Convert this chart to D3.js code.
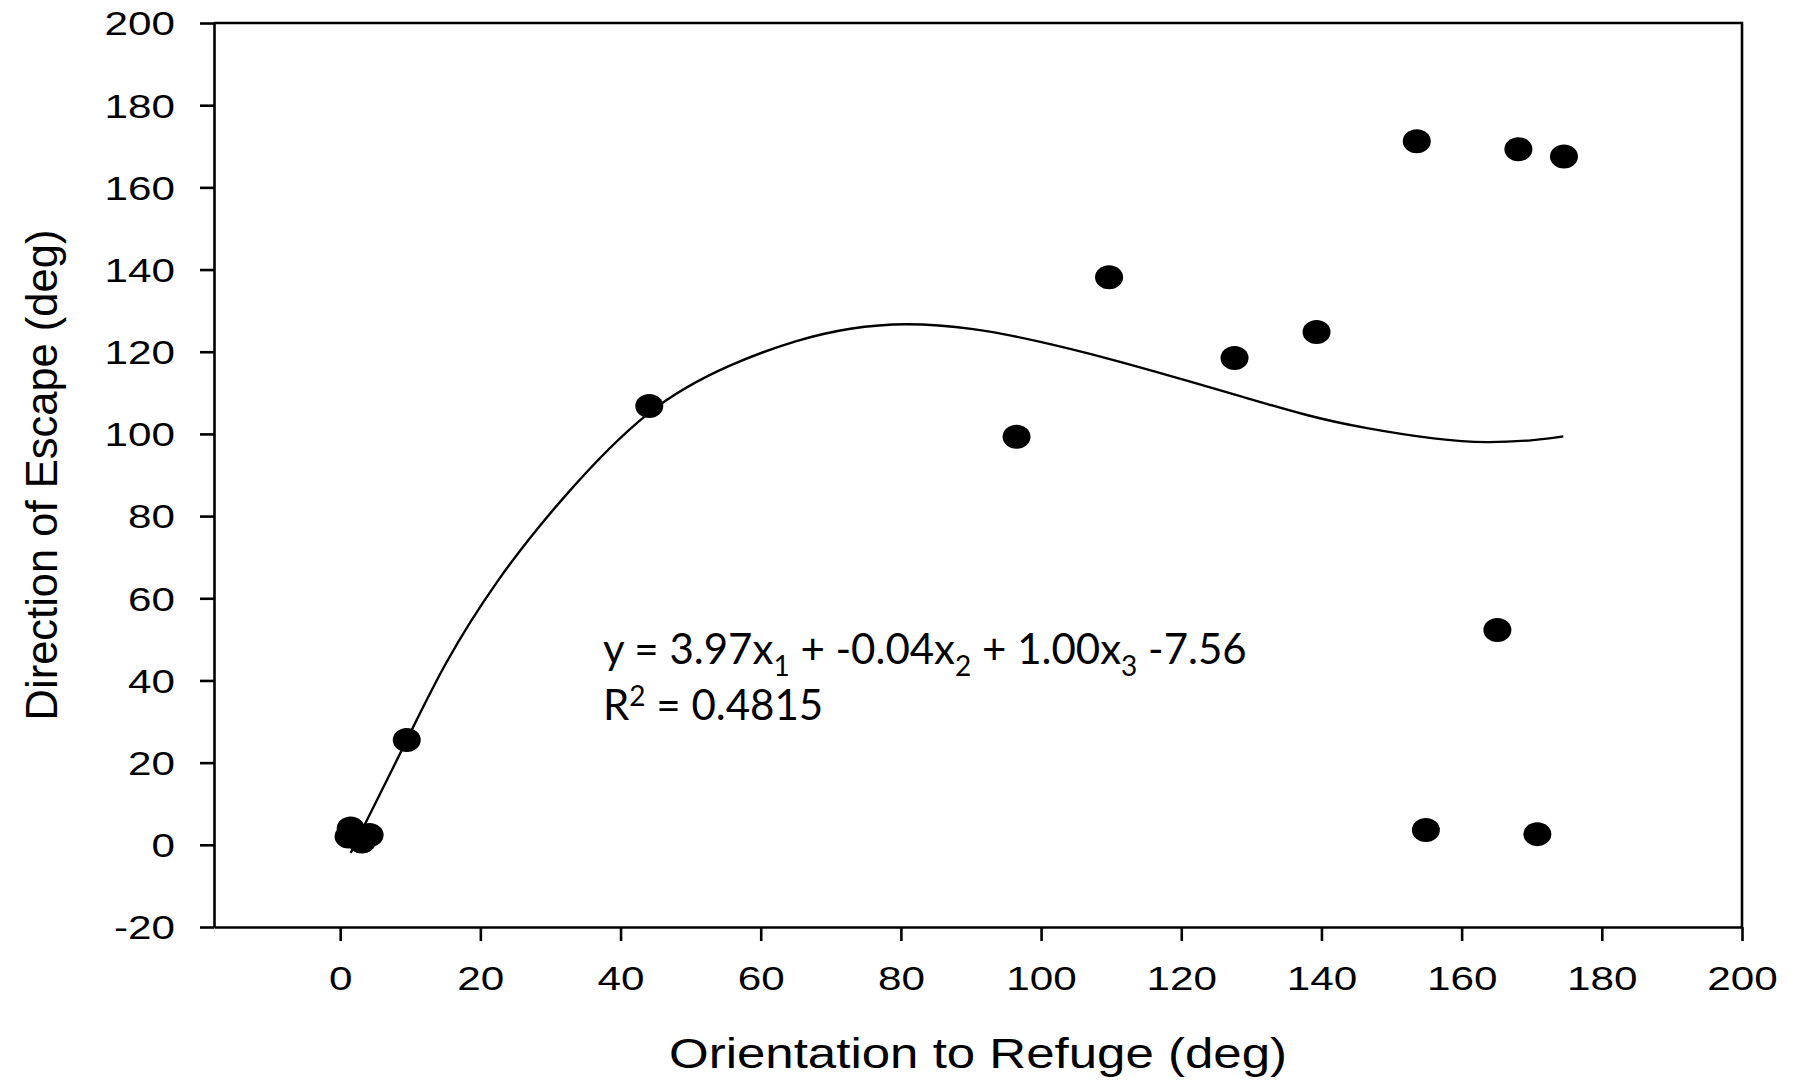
<!DOCTYPE html>
<html>
<head>
<meta charset="utf-8">
<script src="https://cdn.jsdelivr.net/npm/d3@7"></script>
<style>
  body { margin: 0; background: #fff; }
  svg { display: block; }
  .axis path, .axis line { stroke: #000; stroke-width: 2.6; }
  .axis text { font-family: "Liberation Sans", Arial, sans-serif; font-size: 33px; fill: #000; }
  .eq { font-family: Lato, "Open Sans", sans-serif; font-size: 42px; fill: #000; }
</style>
</head>
<body>
<svg width="1796" height="1085"></svg>
<script>
// observations: orientation to refuge vs direction of escape (deg)
var orientation = [1.5, 1.2, 4.2, 3.1, 9.5, 44.1, 96.5, 109.7, 127.6, 139.3, 153.6, 168.1, 174.6, 165.1, 154.9, 170.8];
var escape      = [4.0, 2.0, 2.4, 0.8, 25.5, 106.8, 99.3, 138.1, 118.5, 124.8, 171.2, 169.3, 167.5, 52.3, 3.6, 2.6];

// regression curve, points
var fitX = [1.5, 3.3, 9.5, 15.2, 22.4, 31.9, 44.0, 55.6, 65.1, 72.8, 80.8, 90.3, 99.9, 109.4, 118.9, 128.4, 137.9, 146.5, 156.0, 163.6, 170.2, 174.5];
var fitY = [-2.0, 4.2, 25.5, 44.5, 64.0, 84.5, 105.0, 116.6, 122.6, 125.6, 126.7, 125.5, 122.4, 118.4, 113.9, 109.2, 104.6, 101.4, 98.9, 98.0, 98.5, 99.4];

var xTicks = [0, 20, 40, 60, 80, 100, 120, 140, 160, 180, 200];
var yTicks = [-20, 0, 20, 40, 60, 80, 100, 120, 140, 160, 180, 200];

var svg = d3.select("svg"),
  margin = { top: 23, right: 54, bottom: 158, left: 214 },
  width = +svg.attr("width") - margin.left - margin.right,
  height = +svg.attr("height") - margin.top - margin.bottom,
  g = svg.append("g")
    .attr("transform", "translate(" + margin.left + "," + margin.top + ")");

var x = d3.scaleLinear().domain([-18, 200]).range([0, width]);
var y = d3.scaleLinear().domain([-20, 200]).range([height, 0]);

// frame (top + right)
g.append("path")
  .attr("d", "M0,0H" + width + "V" + height)
  .attr("fill", "none")
  .attr("stroke", "#000")
  .attr("stroke-width", 2.6);

var yAxis = g.append("g")
  .attr("class", "axis")
  .call(d3.axisLeft(y).tickValues(yTicks).tickSize(14).tickSizeOuter(0)
    .tickFormat(function (d) { return String(d); }));
yAxis.selectAll(".tick text")
  .attr("x", 0)
  .attr("dy", "0.36em")
  .attr("transform", "translate(-39,0) scale(1.28,1)");

var xAxis = g.append("g")
  .attr("class", "axis")
  .attr("transform", "translate(0," + height + ")")
  .call(d3.axisBottom(x).tickValues(xTicks).tickSize(14).tickSizeOuter(0)
    .tickFormat(function (d) { return String(d); }));
xAxis.selectAll(".tick text")
  .attr("y", 0)
  .attr("dy", 0)
  .attr("transform", "translate(0,63) scale(1.28,1)");

// axis titles
svg.append("text")
  .attr("x", margin.left + width / 2)
  .attr("y", 1068)
  .attr("text-anchor", "middle")
  .attr("font-family", "Liberation Sans, Arial, sans-serif")
  .attr("font-size", 42)
  .attr("textLength", 618)
  .attr("lengthAdjust", "spacingAndGlyphs")
  .text("Orientation to Refuge (deg)");

svg.append("text")
  .attr("transform", "translate(57," + (margin.top + height / 2) + ") rotate(-90)")
  .attr("text-anchor", "middle")
  .attr("font-family", "Liberation Sans, Arial, sans-serif")
  .attr("font-size", 43.5)
  .text("Direction of Escape (deg)");

// fitted curve
var line = d3.line()
  .x(function (d, i) { return x(fitX[i]); })
  .y(function (d, i) { return y(fitY[i]); })
  .curve(d3.curveNatural);

g.append("path")
  .datum(fitX)
  .attr("d", line)
  .attr("fill", "none")
  .attr("stroke", "#000")
  .attr("stroke-width", 2.4);

// points
g.selectAll("ellipse")
  .data(orientation)
  .enter()
  .append("ellipse")
  .attr("cx", function (d) { return x(d); })
  .attr("cy", function (d, i) { return y(escape[i]); })
  .attr("rx", 14)
  .attr("ry", 12)
  .attr("fill", "#000");

// equation (two separate lines)
var l1 = svg.append("text").attr("class", "eq").attr("x", 603).attr("y", 664);
l1.append("tspan").text("y = 3.97x");
l1.append("tspan").attr("dy", 12).attr("font-size", 28).text("1");
l1.append("tspan").attr("dy", -12).text(" + -0.04x");
l1.append("tspan").attr("dy", 12).attr("font-size", 28).text("2");
l1.append("tspan").attr("dy", -12).text(" + 1.00x");
l1.append("tspan").attr("dy", 12).attr("font-size", 28).text("3");
l1.append("tspan").attr("dy", -12).text(" -7.56");

var l2 = svg.append("text").attr("class", "eq").attr("x", 603).attr("y", 720);
l2.append("tspan").text("R");
l2.append("tspan").attr("dy", -14).attr("font-size", 28).text("2");
l2.append("tspan").attr("dy", 14).text(" = 0.4815");
</script>
</body>
</html>
